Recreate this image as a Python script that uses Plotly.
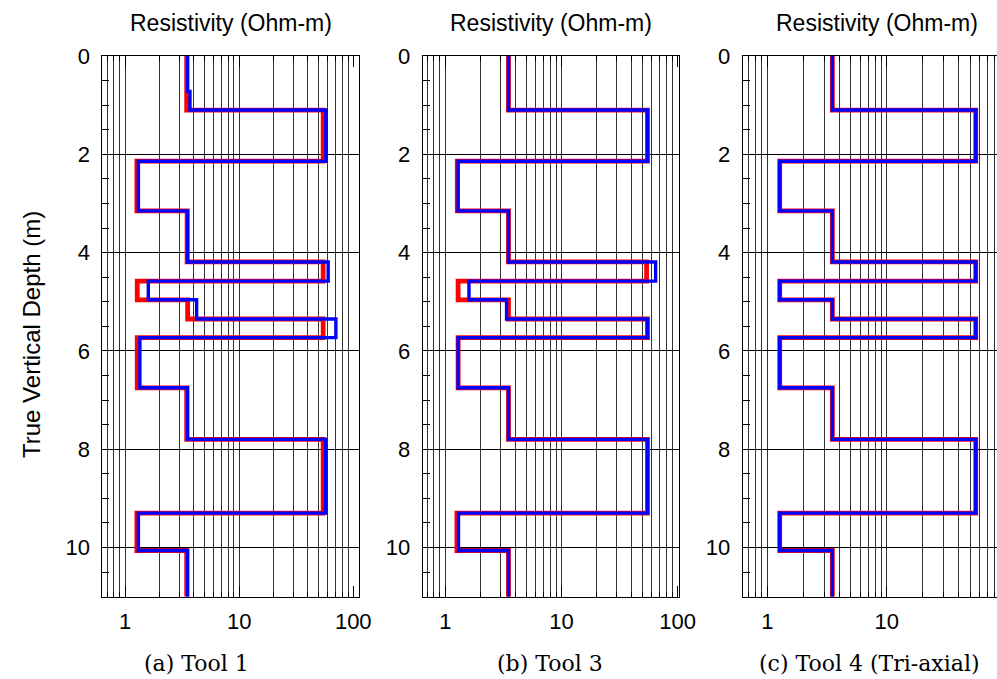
import plotly.graph_objects as go

W, H = 997, 679

# ---------------- data ----------------
depth_bottom = 11.0
layer_tops = [0.0, 1.10, 2.14, 3.15, 4.19, 4.58, 4.96, 5.35, 5.73, 6.75, 7.80, 9.30, 10.06]

tool1_red = [3.47, 54.5, 1.27, 3.5, 54.5, 1.28, 3.54, 54.5, 1.28, 3.47, 54.5, 1.27, 3.47]
tool1_blue_tops = [0.0, 0.72, 1.10, 2.14, 3.15, 4.19, 4.58, 4.96, 5.35, 5.73, 6.75, 7.80, 9.30, 10.06]
tool1_blue = [3.54, 3.71, 57.5, 1.31, 3.54, 60.3, 1.60, 4.24, 70.4, 1.35, 3.54, 57.2, 1.31, 3.54]

tool3_red = [3.5, 55.0, 1.27, 3.5, 54.0, 1.29, 3.5, 55.0, 1.29, 3.5, 55.0, 1.26, 3.5]
tool3_blue = [3.5, 55.0, 1.29, 3.5, 64.6, 1.60, 3.37, 55.0, 1.29, 3.5, 55.0, 1.30, 3.5]

tool4_red = [3.5, 55.5, 1.27, 3.5, 55.5, 1.27, 3.5, 55.5, 1.27, 3.5, 55.5, 1.27, 3.5]
tool4_blue = [3.5, 55.5, 1.27, 3.5, 55.5, 1.27, 3.5, 55.5, 1.27, 3.5, 55.5, 1.27, 3.5]

x_tick_vals = [1, 10, 100]
x_tick_text = ["1", "10", "100"]
x_grid_vals = [0.7, 0.8, 0.9, 1, 2, 3, 4, 5, 6, 7, 8, 9,
               10, 20, 30, 40, 50, 60, 70, 80, 90]
y_tick_vals = [0, 2, 4, 6, 8, 10]

titles = ["Resistivity (Ohm-m)"] * 3
captions = ["(a) Tool 1", "(b) Tool 3", "(c) Tool 4 (Tri-axial)"]
y_title = "True Vertical Depth (m)"

# ---------------- layout geometry (pixels) ----------------
panels_px = [(102.3, 359.3), (422.7, 679.3), (742.7, 997.0)]
x_ranges = [(-0.199, 2.053), (-0.194, 2.014), (-0.206, 1.922)]
y_top_px, y_bot_px = 56.0, 596.7
caption_x_px = [196, 550, 869]

SANS = "Liberation Sans, Arial, sans-serif"
SERIF = "DejaVu Serif, serif"

fig = go.Figure()

def step(tops, vals):
    return list(vals) + [vals[-1]], list(tops) + [depth_bottom]

series = [
    ((layer_tops, tool1_red), (tool1_blue_tops, tool1_blue)),
    ((layer_tops, tool3_red), (layer_tops, tool3_blue)),
    ((layer_tops, tool4_red), (layer_tops, tool4_blue)),
]

for i, (red, blue) in enumerate(series):
    ax = "" if i == 0 else str(i + 1)
    xr, yr = step(*red)
    xb, yb = step(*blue)
    fig.add_trace(go.Scatter(x=xr, y=yr, mode="lines", line=dict(color="#ff0000", width=4.8, shape="vh"),
                             xaxis="x" + ax, yaxis="y" + ax, showlegend=False, hoverinfo="skip"))
    fig.add_trace(go.Scatter(x=xb, y=yb, mode="lines", line=dict(color="#0000ff", width=3.4, shape="vh"),
                             xaxis="x" + ax, yaxis="y" + ax, showlegend=False, hoverinfo="skip"))

ydom = [1 - y_bot_px / H, 1 - y_top_px / H]
layout = dict(width=W, height=H, margin=dict(l=0, r=0, t=0, b=0, autoexpand=False),
              paper_bgcolor="white", plot_bgcolor="white", showlegend=False)

for i in range(3):
    ax = "" if i == 0 else str(i + 1)
    x0, x1 = panels_px[i]
    layout["xaxis" + ax] = dict(
        type="log", range=list(x_ranges[i]), domain=[x0 / W, min(x1 / W, 1.0)],
        anchor="y" + ax, tickmode="array", tickvals=x_tick_vals, ticktext=x_tick_text,
        ticks="inside", ticklen=11, tickcolor="black", tickwidth=1,
        showgrid=False, zeroline=False, automargin=False,
        showline=True, linecolor="black", linewidth=1, mirror="allticks",
        tickfont=dict(family=SANS, size=22, color="black"), ticklabelstandoff=5,
        minor=dict(tickmode="array", tickvals=x_grid_vals, showgrid=True,
                   gridcolor="rgba(0,0,0,0.8)", gridwidth=1,
                   ticks="inside", ticklen=5, tickcolor="black"),
        fixedrange=True,
    )
    layout["yaxis" + ax] = dict(
        range=[depth_bottom, 0], domain=ydom, anchor="x" + ax,
        tickmode="array", tickvals=y_tick_vals,
        ticks="inside", ticklen=7, tickcolor="black",
        showgrid=True, gridcolor="black", gridwidth=1, zeroline=False, automargin=False,
        showline=True, linecolor="black", linewidth=1, mirror=(i < 2),
        tickfont=dict(family=SANS, size=22, color="black"), ticklabelstandoff=7,
        minor=dict(dtick=0.5, ticks="inside", ticklen=7, tickcolor="black", showgrid=False),
        fixedrange=True,
    )

annotations = []
for i in range(3):
    x0, x1 = panels_px[i]
    cx = (x0 + x1) / 2 if i < 2 else 877.0
    annotations.append(dict(text=titles[i], x=cx / W, y=1 - 23 / H, xref="paper", yref="paper",
                            xanchor="center", yanchor="middle", showarrow=False,
                            font=dict(family=SANS, size=23, color="black")))
    annotations.append(dict(text=captions[i], x=caption_x_px[i] / W, y=1 - 663 / H,
                            xref="paper", yref="paper", xanchor="center", yanchor="middle",
                            showarrow=False, font=dict(family=SERIF, size=22, color="black")))
annotations.append(dict(text=y_title, x=31 / W, y=1 - 335 / H, xref="paper", yref="paper",
                        xanchor="center", yanchor="middle", textangle=-90, showarrow=False,
                        font=dict(family=SANS, size=24, color="black")))
layout["annotations"] = annotations

fig.update_layout(**layout)
fig.write_html("out.html")
